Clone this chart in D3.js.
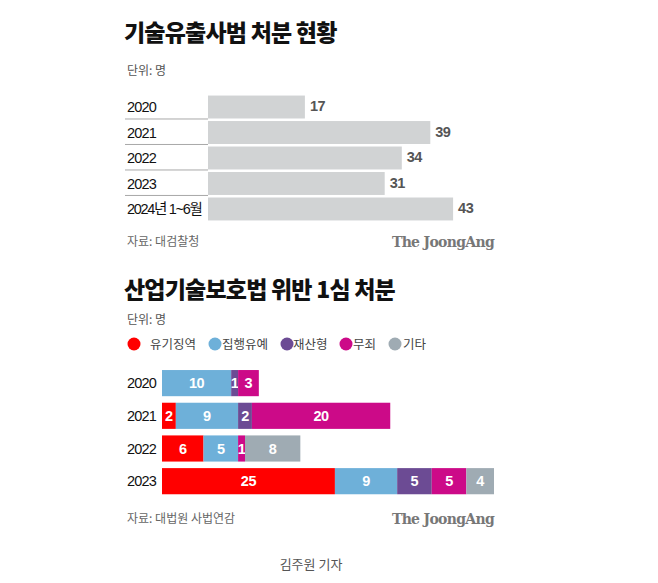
<!DOCTYPE html>
<html><head><meta charset="utf-8">
<script src="https://cdn.jsdelivr.net/npm/d3@7"></script>
<style>
body{margin:0;background:#fff;}
svg text{font-family:"Liberation Sans","Noto Sans CJK KR",sans-serif;}
svg text.serif{font-family:"DejaVu Serif","Liberation Serif",serif;}
svg text.kr{font-family:"Noto Sans CJK KR",sans-serif;}
</style></head>
<body><svg id="c" width="658" height="583"></svg>
<script>
// Chart 1 data
const years1 = ["2020","2021","2022","2023","2024년 1~6월"];
const values1 = [17,39,34,31,43];
// Chart 2 data
const years2 = ["2020","2021","2022","2023"];
const seriesNames = ["유기징역","집행유예","재산형","무죄","기타"];
const seriesColors = ["#ff0000","#6eb0d9","#6c4b94","#cc0a88","#9fabb3"];
const prison =    [0,2,6,25];
const suspended = [10,9,5,9];
const fine =      [1,2,0,5];
const acquit =    [3,20,1,5];
const other =     [0,0,8,4];
const seriesValues = [prison,suspended,fine,acquit,other];

const svg = d3.select("#c");

// ---------- Chart 1 ----------
svg.append("text").attr("class","kr").attr("x",124).attr("y",41).attr("font-size",23).attr("font-weight",900)
  .attr("fill","#111").attr("letter-spacing",-0.8).text("기술유출사범 처분 현황");
svg.append("text").attr("class","kr").attr("x",127).attr("y",75).attr("font-size",12).attr("fill","#555").text("단위: 명");

const y1 = d3.scaleBand().domain(years1).range([93,223]).padding(0.1);
const x1 = d3.scaleLinear().domain([0,50]).range([208,208+5.7*50]);

const g1 = svg.append("g");
g1.selectAll("rect").data(years1).join("rect")
  .attr("x",x1(0)).attr("y",d=>y1(d)).attr("height",y1.bandwidth())
  .attr("width",(d,i)=>x1(values1[i])-x1(0)).attr("fill","#d1d3d4");
g1.selectAll("line.sep").data(years1.slice(0,-1)).join("line").attr("class","sep")
  .attr("x1",125).attr("x2",x1(0)).attr("y1",d=>y1(d)+y1.bandwidth()+0.5).attr("y2",d=>y1(d)+y1.bandwidth()+0.5)
  .attr("stroke","#a8a8a8").attr("stroke-width",1);
g1.selectAll("text.cat").data(years1).join("text").attr("class","cat")
  .attr("x",127).attr("y",d=>y1(d)+y1.bandwidth()/2).attr("dy","0.36em")
  .attr("font-size",14.5).attr("fill","#111").attr("letter-spacing",d=>d.length>4?-1.3:-0.8).text(d=>d);
g1.selectAll("text.val").data(years1).join("text").attr("class","val")
  .attr("x",(d,i)=>x1(values1[i])+5).attr("y",d=>y1(d)+y1.bandwidth()/2-1).attr("dy","0.36em")
  .attr("font-size",14.5).attr("font-weight",700).attr("fill","#555").attr("letter-spacing",-0.5).text((d,i)=>values1[i]);

svg.append("text").attr("class","kr").attr("x",127).attr("y",246).attr("font-size",12).attr("fill","#666").text("자료: 대검찰청");
svg.append("text").attr("class","serif").attr("x",494).attr("y",247).attr("text-anchor","end").attr("font-size",14)
  .attr("font-weight",700).attr("fill","#777").attr("letter-spacing",-0.7).text("The JoongAng");

// ---------- Chart 2 ----------
svg.append("text").attr("class","kr").attr("x",124).attr("y",298).attr("font-size",23).attr("font-weight",900)
  .attr("fill","#111").attr("letter-spacing",-0.8).text("산업기술보호법 위반 1심 처분");
svg.append("text").attr("class","kr").attr("x",127).attr("y",324).attr("font-size",12).attr("fill","#555").text("단위: 명");

const legendPos = [[134,150],[215,222],[287,293],[346,353],[395,403]];
const lg = svg.append("g");
lg.selectAll("circle").data(seriesNames).join("circle")
  .attr("cx",(d,i)=>legendPos[i][0]).attr("cy",344).attr("r",6.5).attr("fill",(d,i)=>seriesColors[i]);
lg.selectAll("text").data(seriesNames).join("text").attr("class","kr")
  .attr("x",(d,i)=>legendPos[i][1]).attr("y",344).attr("dy","0.36em")
  .attr("font-size",12.5).attr("fill","#444").text(d=>d);

const y2 = d3.scaleBand().domain(years2).range([363.5,500.8]).padding(0.2);
const x2 = d3.scaleLinear().domain([0,50]).range([162,162+332/48*50]);

const rows = years2.map((yr,i)=>{const o={year:yr}; seriesNames.forEach((s,k)=>o[s]=seriesValues[k][i]); return o;});
const stack = d3.stack().keys(seriesNames)(rows);

const g2 = svg.append("g");
stack.forEach((layer,k)=>{
  g2.append("g").selectAll("rect").data(layer.filter(d=>d[1]>d[0])).join("rect")
    .attr("x",d=>x2(d[0])).attr("y",d=>y2(d.data.year)).attr("height",y2.bandwidth())
    .attr("width",d=>x2(d[1])-x2(d[0])).attr("fill",seriesColors[k]);
  g2.append("g").selectAll("text").data(layer.filter(d=>d[1]>d[0])).join("text")
    .attr("x",d=>(x2(d[0])+x2(d[1]))/2).attr("y",d=>y2(d.data.year)+y2.bandwidth()/2).attr("dy","0.36em")
    .attr("text-anchor","middle").attr("font-size",14.5).attr("font-weight",700).attr("fill","#fff")
    .attr("letter-spacing",-0.4).text(d=>d[1]-d[0]);
});
g2.selectAll("text.cat").data(years2).join("text").attr("class","cat")
  .attr("x",127).attr("y",d=>y2(d)+y2.bandwidth()/2).attr("dy","0.36em")
  .attr("font-size",14.5).attr("fill","#111").attr("letter-spacing",-0.8).text(d=>d);

svg.append("text").attr("class","kr").attr("x",127).attr("y",523).attr("font-size",12).attr("fill","#666").text("자료: 대법원 사법연감");
svg.append("text").attr("class","serif").attr("x",494).attr("y",524).attr("text-anchor","end").attr("font-size",14)
  .attr("font-weight",700).attr("fill","#777").attr("letter-spacing",-0.7).text("The JoongAng");

svg.append("text").attr("class","kr").attr("x",311).attr("y",569).attr("text-anchor","middle").attr("font-size",13)
  .attr("fill","#555").text("김주원 기자");
</script></body></html>
